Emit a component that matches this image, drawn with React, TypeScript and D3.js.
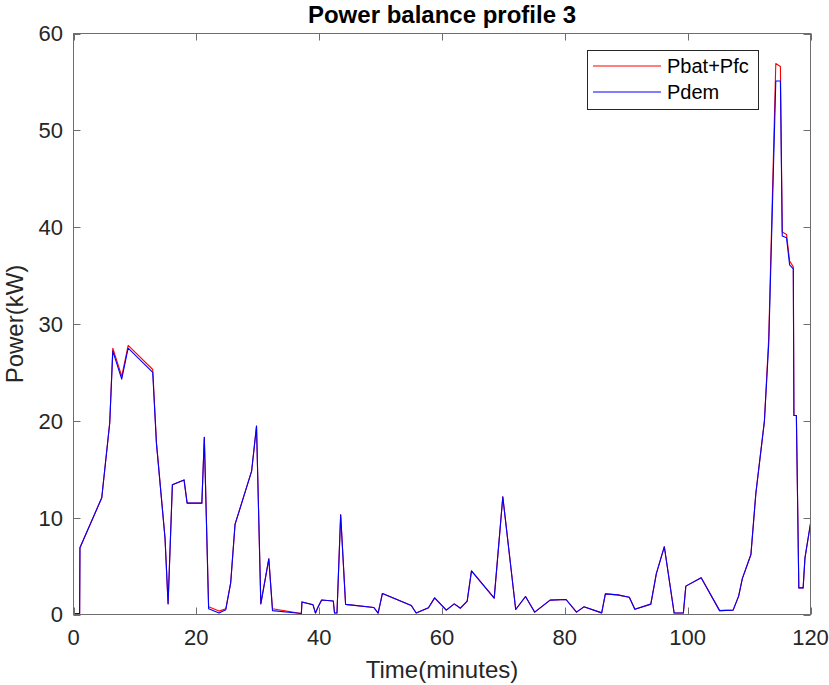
import { useRef, useEffect } from 'react'
import * as d3 from 'd3'

// time axis shared by both series (minutes)
const timeMin = [
  0, 1.0, 1.05, 4.6, 5.9, 6.4, 7.85, 8.9, 12.9, 13.5, 14.9, 15.4, 16.1, 18.0, 18.5, 20.9, 21.3, 22.0, 23.7,
  24.8, 25.6, 26.3, 29.0, 29.8, 30.5, 31.8, 32.4, 37.1, 37.2, 39.0, 39.4, 39.8, 40.4, 42.3, 42.5, 42.9, 43.5,
  44.3, 48.9, 49.6, 50.3, 55.0, 55.8, 57.8, 58.8, 60.7, 62.0, 63.0, 64.1, 64.8, 68.5, 69.9, 72.0, 73.6, 75.1,
  77.6, 80.2, 81.9, 83.1, 86.0, 86.6, 88.6, 90.5, 91.4, 94.0, 94.9, 96.2, 97.8, 99.3, 99.7, 102.2, 105.2,
  107.4, 108.3, 108.9, 110.3, 111.1, 112.5, 113.2, 114.35, 115.1, 115.4, 116.1, 116.6, 117.2, 117.3, 117.7,
  118.1, 118.8, 119.1, 120,
]

const pdem = [
  0.1, 0.1, 6.9, 12.05, 19.8, 27.2, 24.3, 27.5, 25.0, 17.7, 7.9, 1.1, 13.4, 13.9, 11.5, 11.5, 18.3, 0.6, 0.15,
  0.5, 3.3, 9.3, 14.8, 19.45, 1.1, 5.75, 0.4, 0.1, 1.3, 1.0, 0.15, 0.75, 1.5, 1.4, 0.15, 0.15, 10.3,
  1.05, 0.72, 0.15, 2.17, 0.93, 0.15, 0.69, 1.72, 0.45, 1.1, 0.65, 1.38, 4.5, 1.69, 12.15, 0.52, 1.86, 0.24,
  1.48, 1.55, 0.24, 0.79, 0.17, 2.13, 2.03, 1.79, 0.55, 1.07, 4.23, 7.0, 0.15, 0.15, 2.93, 3.79, 0.4,
  0.45, 1.9, 3.7, 6.2, 12.5, 20.0, 28.0, 55.1, 55.1, 39.1, 38.9, 36.1, 35.7, 20.55, 20.55,
  2.75, 2.75, 5.85, 9.4,
]

const pbatPfc = [
  0, 0.1, 6.9, 12.05, 19.8, 27.5, 24.6, 27.8, 25.3, 17.8, 7.9, 1.1, 13.4, 13.9, 11.5, 11.5, 18.3, 0.8, 0.35,
  0.6, 3.3, 9.3, 14.8, 19.45, 1.1, 5.75, 0.6, 0.1, 1.3, 1.0, 0.15, 0.75, 1.5, 1.4, 0.15, 0.15, 10.3,
  1.05, 0.72, 0.15, 2.17, 0.93, 0.15, 0.69, 1.72, 0.45, 1.1, 0.65, 1.38, 4.5, 1.69, 12.15, 0.52, 1.86, 0.24,
  1.48, 1.55, 0.24, 0.79, 0.17, 2.13, 2.03, 1.79, 0.55, 1.07, 4.23, 7.0, 0.15, 0.15, 2.93, 3.79, 0.4,
  0.45, 1.9, 3.7, 6.2, 12.5, 20.0, 28.6, 56.9, 56.6, 39.5, 39.25, 36.5, 35.9, 20.55, 20.55,
  2.75, 2.75, 5.85, 9.4,
]

const xTicks = [0, 20, 40, 60, 80, 100, 120]
const yTicks = [0, 10, 20, 30, 40, 50, 60]
const legendItems = [
  { label: 'Pbat+Pfc', color: '#ff0000' },
  { label: 'Pdem', color: '#0000ff' },
]

const font = '"Liberation Sans", Arial, Helvetica, sans-serif'
const ink = '#262626'

export default function App() {
  const svgRef = useRef<SVGSVGElement>(null)

  useEffect(() => {
    if (!svgRef.current) return
    const svg = d3.select(svgRef.current)
    svg.selectAll('*').remove()

    const width = 829
    const height = 685
    const left = 73.5
    const right = 810.5
    const top = 33.5
    const bottom = 614.5

    svg.attr('width', width).attr('height', height)

    const x = d3.scaleLinear().domain([0, 120]).range([left, right])
    const y = d3.scaleLinear().domain([0, 60]).range([bottom, top])

    const g = svg.append('g')

    // data lines (red first, blue on top)
    const line = d3
      .line<number>()
      .x((_, i) => x(timeMin[i]))
      .y((d) => y(d))

    g.append('path')
      .datum(pbatPfc)
      .attr('fill', 'none')
      .attr('stroke', '#ff0000')
      .attr('stroke-width', 1.1)
      .attr('stroke-linejoin', 'round')
      .attr('d', line)

    g.append('path')
      .datum(pdem)
      .attr('fill', 'none')
      .attr('stroke', '#0000ff')
      .attr('stroke-width', 1.1)
      .attr('stroke-linejoin', 'round')
      .attr('d', line)

    // box
    g.append('rect')
      .attr('x', left)
      .attr('y', top)
      .attr('width', right - left)
      .attr('height', bottom - top)
      .attr('fill', 'none')
      .attr('stroke', '#6e6e6e')
      .attr('stroke-width', 1)

    const tickLen = 7
    // x ticks, bottom and top, pointing inwards
    xTicks.forEach((t) => {
      const xx = Math.round(x(t)) + 0.5
      g.append('line').attr('x1', xx).attr('x2', xx).attr('y1', bottom).attr('y2', bottom - tickLen)
        .attr('stroke', '#6e6e6e')
      g.append('line').attr('x1', xx).attr('x2', xx).attr('y1', top).attr('y2', top + tickLen)
        .attr('stroke', '#6e6e6e')
      g.append('text')
        .attr('x', x(t))
        .attr('y', 645)
        .attr('text-anchor', 'middle')
        .attr('fill', ink)
        .attr('font-size', '22px')
        .attr('font-family', font)
        .text(t)
    })

    // y ticks, left and right
    yTicks.forEach((t) => {
      const yy = Math.round(y(t)) + 0.5
      g.append('line').attr('x1', left).attr('x2', left + tickLen).attr('y1', yy).attr('y2', yy)
        .attr('stroke', '#6e6e6e')
      g.append('line').attr('x1', right).attr('x2', right - tickLen).attr('y1', yy).attr('y2', yy)
        .attr('stroke', '#6e6e6e')
      g.append('text')
        .attr('x', 63)
        .attr('y', y(t))
        .attr('dy', '0.36em')
        .attr('text-anchor', 'end')
        .attr('fill', ink)
        .attr('font-size', '22px')
        .attr('font-family', font)
        .text(t)
    })

    // axis labels and title
    g.append('text')
      .attr('x', (left + right) / 2)
      .attr('y', 678)
      .attr('text-anchor', 'middle')
      .attr('fill', ink)
      .attr('font-size', '24px')
      .attr('font-family', font)
      .text('Time(minutes)')

    g.append('text')
      .attr('transform', `translate(23,${(top + bottom) / 2}) rotate(-90)`)
      .attr('text-anchor', 'middle')
      .attr('fill', ink)
      .attr('font-size', '24px')
      .attr('font-family', font)
      .text('Power(kW)')

    g.append('text')
      .attr('x', (left + right) / 2)
      .attr('y', 23)
      .attr('text-anchor', 'middle')
      .attr('fill', '#000')
      .attr('font-size', '24px')
      .attr('font-weight', 'bold')
      .attr('font-family', font)
      .text('Power balance profile 3')

    // legend
    const lg = g.append('g')
    lg.append('rect')
      .attr('x', 587.5)
      .attr('y', 50.5)
      .attr('width', 171)
      .attr('height', 59)
      .attr('fill', '#fff')
      .attr('stroke', ink)
      .attr('stroke-width', 1)
    legendItems.forEach((d, i) => {
      const ly = 66 + i * 26
      lg.append('line')
        .attr('x1', 593)
        .attr('x2', 661)
        .attr('y1', ly)
        .attr('y2', ly)
        .attr('stroke', d.color)
        .attr('stroke-width', 1.1)
      lg.append('text')
        .attr('x', 667)
        .attr('y', ly)
        .attr('dy', '0.36em')
        .attr('fill', '#000')
        .attr('font-size', '20px')
        .attr('font-family', font)
        .text(d.label)
    })
  }, [])

  return (
    <div style={{ position: 'absolute', left: 0, top: 0, background: '#fff' }}>
      <svg ref={svgRef} style={{ display: 'block' }} />
    </div>
  )
}
